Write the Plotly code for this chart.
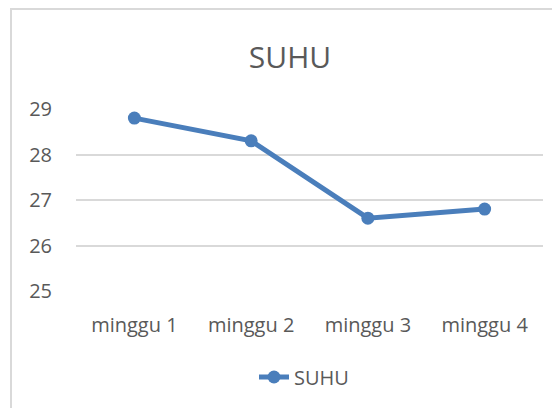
import plotly.graph_objects as go

categories = ["minggu 1", "minggu 2", "minggu 3", "minggu 4"]
suhu = [28.8, 28.3, 26.6, 26.8]
y_ticks = [25, 26, 27, 28, 29]

W, H = 560, 408
OFF = 8  # page body margin
L, T = 76 - OFF, 109 - OFF
R, B = W - (543 - OFF), H - (291 - OFF)
pw, ph = W - L - R, H - T - B
bottom = 291 - OFF

color = "#4A7EBB"
font = "Open Sans"
gray = "#595959"

fig = go.Figure()
fig.add_trace(go.Scatter(
    x=categories, y=suhu, name="SUHU", mode="lines+markers",
    line=dict(color=color, width=5),
    marker=dict(color=color, size=13),
))

fig.update_layout(
    width=W, height=H,
    margin=dict(l=L, r=R, t=T, b=B),
    paper_bgcolor="white", plot_bgcolor="white",
    font=dict(family=font, color=gray, size=20),
    title=dict(text="SUHU", x=(290 - OFF) / W, xref="container", xanchor="center",
               y=1 - (57 - OFF) / H, yref="container", yanchor="middle",
               font=dict(size=30, color=gray, family=font)),
    showlegend=True,
    legend=dict(orientation="h", x=(254 - OFF - L) / pw, xanchor="left",
                y=(bottom - (377 - OFF)) / ph, yanchor="middle",
                font=dict(size=20, color=gray, family=font),
                bgcolor="rgba(0,0,0,0)"),
    xaxis=dict(type="category", range=[-0.5, 3.5], showgrid=False,
               showline=False, zeroline=False, ticks="",
               ticklabelstandoff=20, tickfont=dict(size=20, color=gray)),
    yaxis=dict(range=[25, 29], tickvals=y_ticks, showgrid=True,
               gridcolor="#D9D9D9", gridwidth=2, showline=False,
               zeroline=False, ticks="", ticklabelstandoff=23,
               tickfont=dict(size=20, color=gray)),
)

fig.add_shape(type="rect", xref="paper", yref="paper",
              x0=(11 - OFF - L) / pw, x1=2, y0=-2, y1=(bottom - (9 - OFF)) / ph,
              line=dict(color="#D9D9D9", width=2), fillcolor="rgba(0,0,0,0)",
              layer="below")

fig.write_html("out.html")
